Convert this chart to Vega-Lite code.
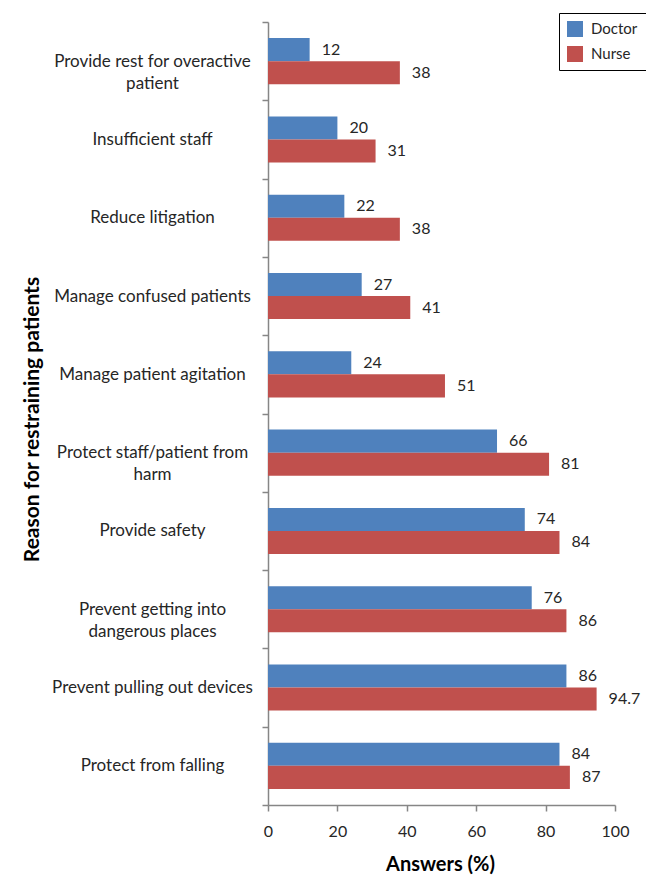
{
  "$schema": "https://vega.github.io/schema/vega-lite/v6.json",
  "width": 347,
  "height": 783,
  "autosize": "none",
  "padding": {"left": 268, "top": 22, "right": 31, "bottom": 80},
  "background": "white",
  "config": {
    "view": {"stroke": null},
    "font": "Lato"
  },
  "data": {
    "values": [
      {"reason": "Provide rest for overactive patient", "group": "Doctor", "value": 12},
      {"reason": "Provide rest for overactive patient", "group": "Nurse", "value": 38},
      {"reason": "Insufficient staff", "group": "Doctor", "value": 20},
      {"reason": "Insufficient staff", "group": "Nurse", "value": 31},
      {"reason": "Reduce litigation", "group": "Doctor", "value": 22},
      {"reason": "Reduce litigation", "group": "Nurse", "value": 38},
      {"reason": "Manage confused patients", "group": "Doctor", "value": 27},
      {"reason": "Manage confused patients", "group": "Nurse", "value": 41},
      {"reason": "Manage patient agitation", "group": "Doctor", "value": 24},
      {"reason": "Manage patient agitation", "group": "Nurse", "value": 51},
      {"reason": "Protect staff/patient from harm", "group": "Doctor", "value": 66},
      {"reason": "Protect staff/patient from harm", "group": "Nurse", "value": 81},
      {"reason": "Provide safety", "group": "Doctor", "value": 74},
      {"reason": "Provide safety", "group": "Nurse", "value": 84},
      {"reason": "Prevent getting into dangerous places", "group": "Doctor", "value": 76},
      {"reason": "Prevent getting into dangerous places", "group": "Nurse", "value": 86},
      {"reason": "Prevent pulling out devices", "group": "Doctor", "value": 86},
      {"reason": "Prevent pulling out devices", "group": "Nurse", "value": 94.7},
      {"reason": "Protect from falling", "group": "Doctor", "value": 84},
      {"reason": "Protect from falling", "group": "Nurse", "value": 87}
    ]
  },
  "encoding": {
    "y": {
      "field": "reason",
      "type": "nominal",
      "sort": null,
      "scale": {"paddingInner": 0, "paddingOuter": 0},
      "axis": {
        "title": "Reason for restraining patients",
        "titleFont": "Lato",
        "titleFontSize": 21,
        "titleFontWeight": "bold",
        "titleColor": "#000000",
        "titleAngle": -90,
        "titleX": -236,
        "titleY": 397,
        "titleAlign": "center",
        "titleBaseline": "middle",
        "domainColor": "#868686",
        "domainWidth": 1.5,
        "tickColor": "#868686",
        "tickWidth": 1.5,
        "tickSize": 6,
        "tickBand": "extent",
        "grid": false,
        "labelFont": "Lato",
        "labelFontSize": 17,
        "labelColor": "#262626",
        "labelAlign": "center",
        "labelBaseline": "middle",
        "labelPadding": 110,
        "labelLimit": 0,
        "labelLineHeight": 22,
        "labelExpr": "datum.value == 'Provide rest for overactive patient' ? ['Provide rest for overactive', 'patient'] : datum.value == 'Protect staff/patient from harm' ? ['Protect staff/patient from', 'harm'] : datum.value == 'Prevent getting into dangerous places' ? ['Prevent getting into', 'dangerous places'] : datum.label"
      }
    },
    "yOffset": {
      "field": "group",
      "type": "nominal",
      "sort": ["Doctor", "Nurse"],
      "scale": {"paddingInner": 0, "paddingOuter": 0.7}
    },
    "x": {
      "field": "value",
      "type": "quantitative",
      "scale": {"domain": [0, 100], "nice": false},
      "axis": {
        "values": [0, 20, 40, 60, 80, 100],
        "title": "Answers (%)",
        "titleFont": "Lato",
        "titleFontSize": 20,
        "titleFontWeight": "bold",
        "titleColor": "#000000",
        "titleX": 172,
        "titleY": 65,
        "titleAlign": "center",
        "titleBaseline": "alphabetic",
        "domainColor": "#868686",
        "domainWidth": 1.5,
        "tickColor": "#868686",
        "tickWidth": 1.5,
        "tickSize": 6,
        "grid": false,
        "labelFont": "Lato",
        "labelFontSize": 16,
        "labelFlush": false,
        "labelColor": "#262626",
        "labelPadding": 12
      }
    }
  },
  "layer": [
    {
      "mark": {"type": "bar"},
      "encoding": {
        "color": {
          "field": "group",
          "type": "nominal",
          "scale": {"domain": ["Doctor", "Nurse"], "range": ["#4F81BD", "#C0504D"]},
          "legend": {
            "title": null,
            "orient": "none",
            "legendX": 291,
            "legendY": -9,
            "strokeColor": "#000000",
            "padding": 8,
            "symbolType": "square",
            "symbolSize": 256,
            "symbolStrokeWidth": 0,
            "labelFont": "Lato",
            "labelFontSize": 15,
            "labelColor": "#262626",
            "labelOffset": 8,
            "rowPadding": 9
          }
        }
      }
    },
    {
      "mark": {"type": "text", "align": "left", "baseline": "middle", "dx": 12, "fontSize": 16, "font": "Lato", "color": "#262626"},
      "encoding": {
        "text": {"field": "value", "type": "quantitative"}
      }
    }
  ]
}
